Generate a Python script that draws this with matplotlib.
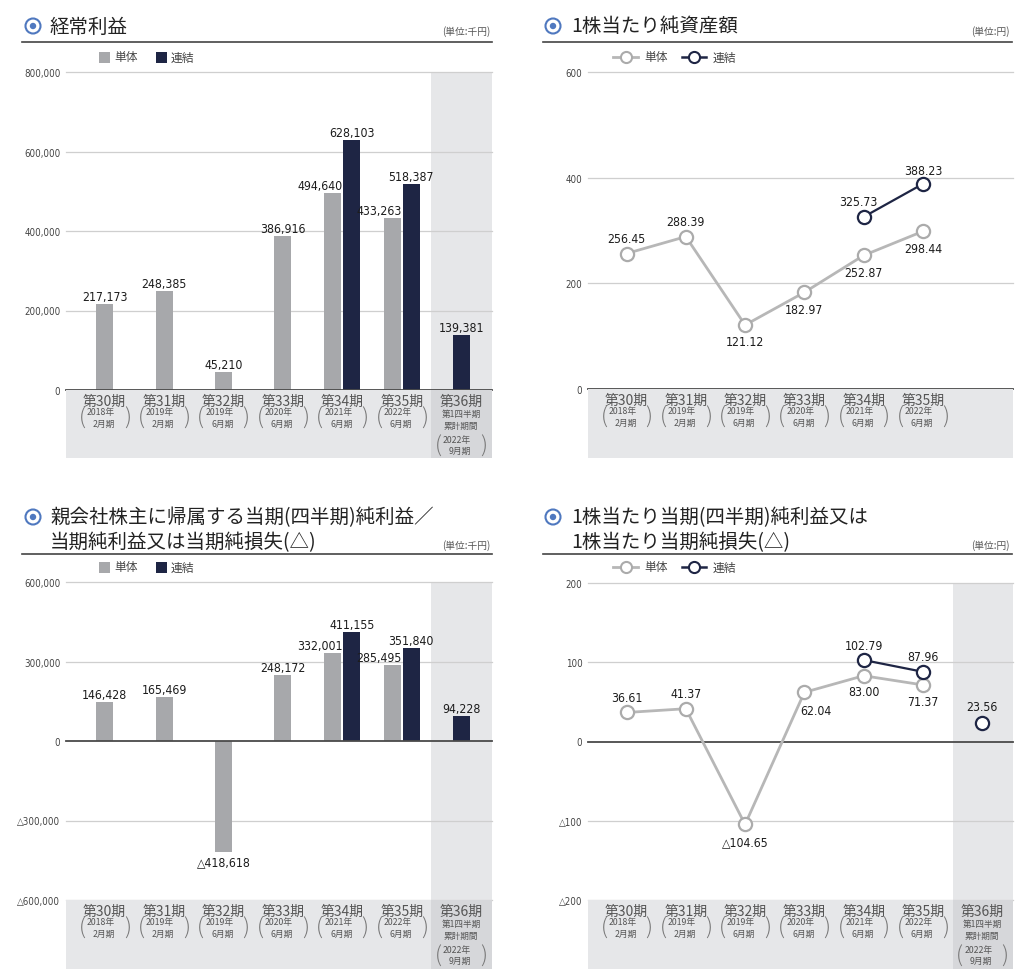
import numpy as np
import matplotlib
matplotlib.use('Agg')
import matplotlib.pyplot as plt
from matplotlib.patches import Rectangle, Circle

W, H = 1024, 978
JP = ['Noto Sans CJK JP', 'DejaVu Sans']
NUM = ['DejaVu Sans', 'Noto Sans CJK JP']
plt.rcParams['font.family'] = JP

# ---------------- data ----------------
periods = ['第30期', '第31期', '第32期', '第33期', '第34期', '第35期', '第36期']
period_years = ['2018年', '2019年', '2019年', '2020年', '2021年', '2022年', '2022年']
period_months = ['2月期', '2月期', '6月期', '6月期', '6月期', '6月期', '9月期']
quarter_note = ['第1四半期', '累計期間']
legend_labels = ['単体', '連結']

titles = ['経常利益', '1株当たり純資産額',
          '親会社株主に帰属する当期(四半期)純利益／\n当期純利益又は当期純損失(△)',
          '1株当たり当期(四半期)純利益又は\n1株当たり当期純損失(△)']
units = ['(単位:千円)', '(単位:円)', '(単位:千円)', '(単位:円)']

ordinary_tan = [217173, 248385, 45210, 386916, 494640, 433263, np.nan]
ordinary_ren = [np.nan, np.nan, np.nan, np.nan, 628103, 518387, 139381]
ordinary_ticks = [0, 200000, 400000, 600000, 800000]

bps_tan = [256.45, 288.39, 121.12, 182.97, 252.87, 298.44]
bps_ren = [np.nan, np.nan, np.nan, np.nan, 325.73, 388.23]
bps_ticks = [0, 200, 400, 600]

net_tan = [146428, 165469, -418618, 248172, 332001, 285495, np.nan]
net_ren = [np.nan, np.nan, np.nan, np.nan, 411155, 351840, 94228]
net_ticks = [-600000, -300000, 0, 300000, 600000]

eps_tan = [36.61, 41.37, -104.65, 62.04, 83.00, 71.37]
eps_ren = [np.nan, np.nan, np.nan, np.nan, 102.79, 87.96, 23.56]
eps_ticks = [-200, -100, 0, 100, 200]

# ---------------- style ----------------
GRAY_BAR = '#a7a8ab'
NAVY = '#1e2544'
GRAY_LINE = '#b7b7b7'
GRAY_EDGE = '#ababab'
BAND = '#e6e7e9'
COL_PLOT = '#e6e7e9'
COL_BAND = '#d6d7da'
GRID = '#cfcfcf'
TXT = '#1c1c1c'
ICON = '#4f78bf'
XLIM = (-0.65, 6.52)
BAR_W = 0.285
BAR_OFF = 0.16
NUMKW = dict(family=NUM, fontstretch='condensed', fontsize=8.8, fontweight='normal', color=TXT, zorder=6)
TICKKW = dict(family=NUM, fontstretch='condensed', fontsize=7, color='#444')

# label offsets (pixels) for line charts
bps_tan_off = [(0, 15), (0, 15), (0, -16), (0, -17), (0, -17), (0, -17)]
bps_ren_off = [None, None, None, None, (-5, 15), (0, 13)]
eps_tan_off = [(0, 15), (0, 15), (0, -17), (12, -18), (0, -16), (0, -17)]
eps_ren_off = [None, None, None, None, (0, 15), (0, 15), (0, 16)]


def neg(s, v):
    return ('△' + s) if v < 0 else s


def fmt_int(v):
    return neg(f'{abs(int(round(v))):,}', v)


def fmt_dec(v):
    return neg(f'{abs(v):.2f}', v)


def fmt_tick(v):
    return neg(f'{abs(int(v)):,}', v)


def px_rect(x0, y0, x1, y1):
    return [x0 / W, 1 - y1 / H, (x1 - x0) / W, (y1 - y0) / H]


fig = plt.figure(figsize=(W / 100, H / 100), dpi=100)
fig.patch.set_facecolor('white')


def make_panel(x0, x1, ytop, ybot, bandbot, ticks, shade_last, ncat):
    ax = fig.add_axes(px_rect(x0, ytop, x1, ybot))
    band = fig.add_axes(px_rect(x0, ybot, x1, bandbot))
    for a in (ax, band):
        a.set_xlim(*XLIM)
        for s in a.spines.values():
            s.set_visible(False)
        a.set_xticks([])
    ax.set_facecolor('none')
    ax.set_ylim(ticks[0], ticks[-1])
    ax.set_yticks(ticks)
    ax.set_yticklabels([fmt_tick(t) for t in ticks], **TICKKW)
    ax.tick_params(axis='y', length=0, pad=4)
    for t in ticks:
        if t == 0:
            ax.axhline(t, color='#4a4a4a', lw=1.3, zorder=3, clip_on=False)
        else:
            ax.axhline(t, color=GRID, lw=0.9, zorder=1, clip_on=False)
    bh = bandbot - ybot
    band.set_ylim(bh, 0)
    band.set_yticks([])
    band.set_facecolor(BAND)
    if shade_last:
        ax.axvspan(5.5, XLIM[1], color=COL_PLOT, zorder=0, lw=0)
        band.axvspan(5.5, XLIM[1], color=COL_BAND, zorder=0, lw=0)
    for i in range(ncat):
        band.text(i, 11, periods[i], ha='center', va='center', fontsize=10, color='#555')
        if i < 6:
            yy, ym, yp = 22, 33, 28
        else:
            band.text(i, 23.5, quarter_note[0], ha='center', va='center', fontsize=6.2, color='#555')
            band.text(i, 35, quarter_note[1], ha='center', va='center', fontsize=6.2, color='#555')
            yy, ym, yp = 50, 60, 55.5
        band.text(i + 0.17, yy, period_years[i], ha='right', va='center', fontsize=6.3, color='#555')
        band.text(i + 0.17, ym, period_months[i], ha='right', va='center', fontsize=6.3, color='#555')
        band.text(i - 0.38, yp, '(', ha='center', va='center', fontsize=16, color='#777', fontweight='light')
        band.text(i + 0.38, yp, ')', ha='center', va='center', fontsize=16, color='#777', fontweight='light')
    return ax


def draw_bars(ax, tan, ren):
    x = np.arange(len(tan))
    for i in x:
        t, r = tan[i], ren[i]
        both = not np.isnan(t) and not np.isnan(r)
        if not np.isnan(t):
            xc = i - BAR_OFF if both else i
            ax.bar(xc, t, width=BAR_W, color=GRAY_BAR, zorder=2)
            if t >= 0:
                if both:
                    ax.annotate(fmt_int(t), (xc + BAR_W / 2 + 0.02, t), xytext=(0, 1), textcoords='offset pixels',
                                ha='right', va='bottom', **NUMKW)
                else:
                    ax.annotate(fmt_int(t), (xc, t), xytext=(0, 1), textcoords='offset pixels',
                                ha='center', va='bottom', **NUMKW)
            else:
                ax.annotate(fmt_int(t), (xc, t), xytext=(0, -3), textcoords='offset pixels',
                            ha='center', va='top', **NUMKW)
        if not np.isnan(r):
            xc = i + BAR_OFF if both else i
            ax.bar(xc, r, width=BAR_W, color=NAVY, zorder=2)
            ax.annotate(fmt_int(r), (xc, r), xytext=(0, 1), textcoords='offset pixels',
                        ha='center', va='bottom', **NUMKW)


def draw_lines(ax, tan, ren, tan_off, ren_off, n_annual):
    xt = np.arange(len(tan))
    ax.plot(xt, tan, color=GRAY_LINE, lw=2, marker='o', ms=9.5, mfc='white', mec=GRAY_EDGE, mew=1.6,
            zorder=3, clip_on=False)
    ren = np.array(ren, dtype=float)
    xr = np.arange(len(ren))
    ax.plot(xr[:n_annual], ren[:n_annual], color=NAVY, lw=1.6, zorder=4)
    ax.plot(xr, ren, ls='none', marker='o', ms=9.5, mfc='white', mec=NAVY, mew=1.6, zorder=4, clip_on=False)
    for i, v in enumerate(tan):
        dx, dy = tan_off[i]
        ax.annotate(fmt_dec(v), (i, v), xytext=(dx, dy), textcoords='offset pixels', ha='center',
                    va='center', **NUMKW)
    for i, v in enumerate(ren):
        if not np.isnan(v):
            dx, dy = ren_off[i]
            ax.annotate(fmt_dec(v), (i, v), xytext=(dx, dy), textcoords='offset pixels', ha='center',
                        va='center', **NUMKW)


# Panel 1
ax1 = make_panel(66, 492, 73, 391, 459, ordinary_ticks, True, 7)
draw_bars(ax1, ordinary_tan, ordinary_ren)
# Panel 2
ax2 = make_panel(588, 1013, 73, 390, 459, bps_ticks, False, 6)
draw_lines(ax2, bps_tan, bps_ren, bps_tan_off, bps_ren_off, 6)
# Panel 3
ax3 = make_panel(66, 492, 583, 901, 970, net_ticks, True, 7)
draw_bars(ax3, net_tan, net_ren)
# Panel 4
ax4 = make_panel(588, 1013, 584, 901, 970, eps_ticks, True, 7)
draw_lines(ax4, eps_tan, eps_ren, eps_tan_off, eps_ren_off, 6)

# ---------------- overlay: titles, rules, legends ----------------
ov = fig.add_axes([0, 0, 1, 1])
ov.set_xlim(0, W)
ov.set_ylim(H, 0)
ov.axis('off')
ov.patch.set_visible(False)

headers = [
    dict(icon=(33, 27), tx=50, ty=[27], rule=(22, 492, 43), unit=(490, 32), leg=58, lx=99, kind='bar'),
    dict(icon=(553, 27), tx=571, ty=[27], rule=(543, 1012, 43), unit=(1010, 32), leg=58, lx=613, kind='line'),
    dict(icon=(33, 518), tx=50, ty=[518, 543], rule=(22, 492, 555), unit=(490, 546), leg=568, lx=99, kind='bar'),
    dict(icon=(553, 518), tx=571, ty=[518, 543], rule=(543, 1012, 555), unit=(1010, 546), leg=568, lx=613,
         kind='line'),
]
for k, h in enumerate(headers):
    cx, cy = h['icon']
    ov.add_patch(Circle((cx, cy), 7.5, fill=False, ec=ICON, lw=1.5))
    ov.add_patch(Circle((cx, cy), 3.2, color=ICON, lw=0))
    for line, yy in zip(titles[k].split('\n'), h['ty']):
        ov.text(h['tx'], yy, line, fontsize=14, va='center', ha='left', color='#222222')
    x0, x1, yr = h['rule']
    ov.plot([x0, x1], [yr, yr], color='#444', lw=1.2)
    ov.text(h['unit'][0], h['unit'][1], units[k], ha='right', va='center', fontsize=7, color='#555')
    ly = h['leg']
    lx = h['lx']
    if h['kind'] == 'bar':
        ov.add_patch(Rectangle((lx, ly - 5.5), 11, 11, color=GRAY_BAR, lw=0))
        ov.text(lx + 15, ly, legend_labels[0], va='center', ha='left', fontsize=8.5, color='#444')
        ov.add_patch(Rectangle((lx + 57, ly - 5.5), 11, 11, color=NAVY, lw=0))
        ov.text(lx + 72, ly, legend_labels[1], va='center', ha='left', fontsize=8.5, color='#444')
    else:
        ov.plot([lx, lx + 25], [ly, ly], color=GRAY_LINE, lw=2)
        ov.plot([lx + 12.5], [ly], marker='o', ms=8, mfc='white', mec=GRAY_EDGE, mew=1.5)
        ov.text(lx + 31, ly, legend_labels[0], va='center', ha='left', fontsize=8.5, color='#444')
        ov.plot([lx + 69, lx + 93], [ly, ly], color=NAVY, lw=1.8)
        ov.plot([lx + 81], [ly], marker='o', ms=8, mfc='white', mec=NAVY, mew=1.5)
        ov.text(lx + 100, ly, legend_labels[1], va='center', ha='left', fontsize=8.5, color='#444')

fig.savefig('out.png', dpi=100)
